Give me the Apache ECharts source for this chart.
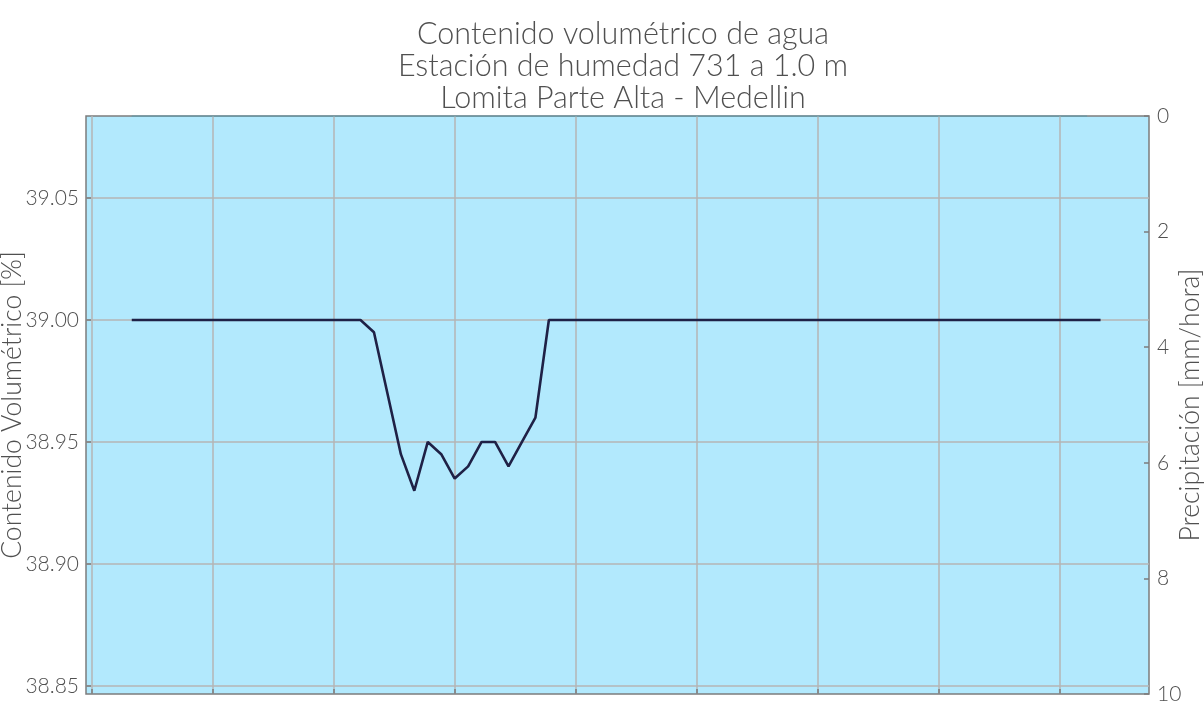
<!DOCTYPE html>
<html>
<head>
<meta charset="utf-8">
<script src="https://cdn.jsdelivr.net/npm/echarts@6/dist/echarts.min.js"></script>
<style>
  html, body { margin: 0; padding: 0; background: #ffffff; }
  #chart { width: 1204px; height: 708px; }
</style>
</head>
<body>
<div id="chart"></div>
<script>
// Hourly readings (hour index from the start of the record)
const horas = Array.from({ length: 73 }, (_, i) => i);

// Volumetric water content [%] at 1.0 m
const contenido = [
  39.00, 39.00, 39.00, 39.00, 39.00, 39.00, 39.00, 39.00, 39.00, 39.00,
  39.00, 39.00, 39.00, 39.00, 39.00, 39.00, 39.00, 39.00, 38.995, 38.970,
  38.945, 38.930, 38.950, 38.945, 38.935, 38.940, 38.950, 38.950, 38.940, 38.950,
  38.960, 39.00, 39.00, 39.00, 39.00, 39.00, 39.00, 39.00, 39.00, 39.00,
  39.00, 39.00, 39.00, 39.00, 39.00, 39.00, 39.00, 39.00, 39.00, 39.00,
  39.00, 39.00, 39.00, 39.00, 39.00, 39.00, 39.00, 39.00, 39.00, 39.00,
  39.00, 39.00, 39.00, 39.00, 39.00, 39.00, 39.00, 39.00, 39.00, 39.00,
  39.00, 39.00, 39.00
];

// Hourly precipitation [mm/hora]
const precipitacion = [
  0, 0, 0, 0, 0, 0, 0, 0, 0, 0, 0, 0, 0, 0, 0, 0, 0, 0, 0, 0,
  0, 0, 0, 0, 0, 0, 0, 0, 0, 0, 0, 0, 0, 0, 0, 0, 0, 0, 0, 0,
  0, 0, 0, 0, 0, 0, 0, 0, 0, 0, 0, 0, 0, 0, 0, 0, 0, 0, 0, 0,
  0, 0, 0, 0, 0, 0, 0, 0, 0, 0, 0, 0
];

// Tick positions
const ticksX = [-3, 6, 15, 24, 33, 42, 51, 60, 69];
const ticksContenido = [38.85, 38.90, 38.95, 39.00, 39.05];
const ticksPrecip = [0, 2, 4, 6, 8, 10];

const tituloLineas = [
  'Contenido volumétrico de agua',
  'Estación de humedad 731 a 1.0 m',
  'Lomita Parte Alta - Medellin'
];

const FONT = 'Lato';
const TEXT = '#505050';
const FRAME = '#7c7c7c';
const GRID = '#b4b4b4';

const chart = echarts.init(document.getElementById('chart'), null, { renderer: 'canvas' });

chart.setOption({
  animation: false,
  backgroundColor: '#ffffff',
  textStyle: { fontFamily: FONT },
  title: {
    text: tituloLineas.join('\n'),
    left: 618,
    textAlign: 'center',
    top: 13,
    textStyle: {
      fontFamily: FONT,
      fontWeight: 300,
      fontSize: 30.5,
      lineHeight: 32,
      color: TEXT
    }
  },
  grid: {
    left: 86,
    right: 55,
    top: 116,
    bottom: 14,
    outerBoundsMode: 'none',
    containLabel: false,
    show: true,
    backgroundColor: '#b2e9fd',
    borderColor: FRAME,
    borderWidth: 1.5
  },
  xAxis: {
    type: 'value',
    position: 'bottom',
    min: -3.4,
    max: 75.6,
    axisLine: { show: false, onZero: false },
    axisLabel: { show: false },
    axisTick: {
      show: true,
      inside: true,
      length: 5,
      customValues: ticksX,
      lineStyle: { color: FRAME, width: 1.5 }
    },
    splitLine: { show: true, lineStyle: { color: GRID, width: 1.5 } }
  },
  yAxis: [
    {
      type: 'value',
      position: 'left',
      min: 38.8467,
      max: 39.0836,
      name: 'Contenido Volumétrico [%]',
      nameLocation: 'middle',
      nameRotate: 90,
      nameGap: 60,
      nameMoveOverlap: false,
      nameTextStyle: { fontFamily: FONT, fontWeight: 300, fontSize: 26.5, color: TEXT },
      axisLine: { show: false, onZero: false },
      axisTick: {
        show: true,
        inside: true,
        length: 5,
        customValues: ticksContenido,
        lineStyle: { color: FRAME, width: 1.5 }
      },
      axisLabel: {
        customValues: ticksContenido,
        formatter: v => v.toFixed(2),
        fontFamily: FONT,
        fontWeight: 300,
        fontSize: 21,
        color: TEXT,
        margin: 7
      },
      splitLine: { show: true, lineStyle: { color: GRID, width: 1.5 } }
    },
    {
      type: 'value',
      position: 'right',
      inverse: true,
      min: 0,
      max: 10,
      interval: 2,
      name: 'Precipitación [mm/hora]',
      nameLocation: 'middle',
      nameRotate: 90,
      nameGap: 28,
      nameMoveOverlap: false,
      nameTextStyle: { fontFamily: FONT, fontWeight: 300, fontSize: 26.5, color: TEXT },
      axisLine: { show: false, onZero: false },
      axisTick: {
        show: true,
        inside: true,
        length: 5,
        customValues: ticksPrecip,
        lineStyle: { color: FRAME, width: 1.5 }
      },
      axisLabel: {
        customValues: ticksPrecip,
        fontFamily: FONT,
        fontWeight: 300,
        fontSize: 21,
        color: TEXT,
        margin: 8
      },
      splitLine: { show: false }
    }
  ],
  series: [
    {
      name: 'Precipitación',
      type: 'line',
      yAxisIndex: 1,
      data: precipitacion.map((v, i) => [horas[i], v]),
      showSymbol: false,
      lineStyle: { color: '#4f9bb0', width: 1.5, opacity: 0.6 },
      z: 3
    },
    {
      name: 'Contenido volumétrico',
      type: 'line',
      yAxisIndex: 0,
      data: contenido.map((v, i) => [horas[i], v]),
      showSymbol: false,
      lineStyle: { color: '#1f2146', width: 2.6 },
      z: 4
    }
  ]
});
</script>
</body>
</html>
